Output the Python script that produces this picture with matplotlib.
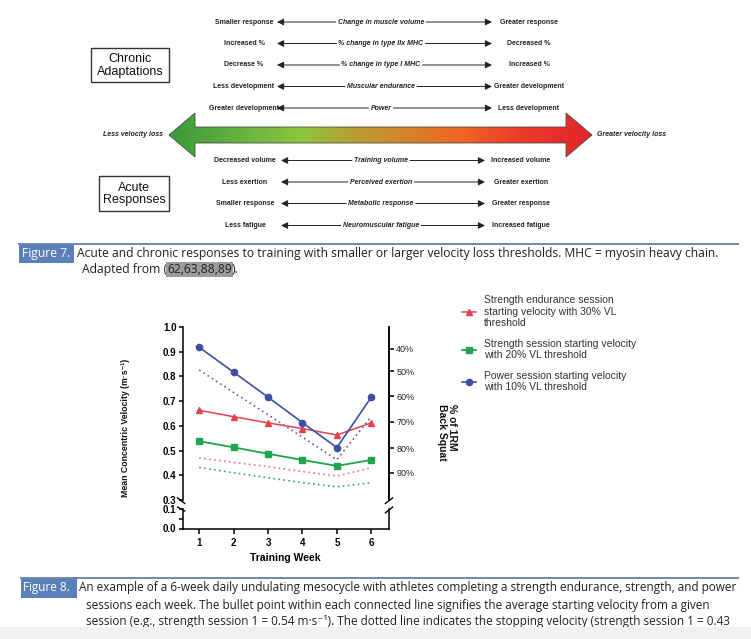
import numpy as np
import matplotlib
matplotlib.use('Agg')
import matplotlib.pyplot as plt
from matplotlib.patches import Polygon, Rectangle
from matplotlib.colors import LinearSegmentedColormap

plt.rcParams['font.family'] = ['Liberation Sans', 'DejaVu Sans']

# ---- figure 7 labels
chronic_left = ['Smaller response', 'Increased %', 'Decrease %', 'Less development', 'Greater development']
chronic_mid = ['Change in muscle volume', '% change in type IIx MHC', '% change in type I MHC',
               'Muscular endurance', 'Power']
chronic_right = ['Greater response', 'Decreased %', 'Increased %', 'Greater development', 'Less development']
acute_left = ['Decreased volume', 'Less exertion', 'Smaller response', 'Less fatigue']
acute_mid = ['Training volume', 'Perceived exertion', 'Metabolic response', 'Neuromuscular fatigue']
acute_right = ['Increased volume', 'Greater exertion', 'Greater response', 'Increased fatigue']

# ---- figure 8 data
weeks = [1, 2, 3, 4, 5, 6]
se_start = [0.663, 0.637, 0.612, 0.589, 0.563, 0.612]
se_stop = [0.47, 0.452, 0.435, 0.415, 0.397, 0.43]
str_start = [0.538, 0.513, 0.487, 0.462, 0.438, 0.462]
str_stop = [0.432, 0.41, 0.39, 0.37, 0.353, 0.37]
pow_start = [0.918, 0.817, 0.716, 0.613, 0.512, 0.716]
pow_stop = [0.826, 0.735, 0.645, 0.554, 0.463, 0.638]
pct_labels = ['40%', '50%', '60%', '70%', '80%', '90%']
pct_vel = [0.913, 0.82, 0.719, 0.616, 0.509, 0.411]

cap7_line1 = 'Acute and chronic responses to training with smaller or larger velocity loss thresholds. MHC = myosin heavy chain.'
cap7_line2 = ['Adapted from (', '62,63,88,89', ').']
cap8_lines = ['An example of a 6-week daily undulating mesocycle with athletes completing a strength endurance, strength, and power',
              'sessions each week. The bullet point within each connected line signifies the average starting velocity from a given',
              'session (e.g., strength session 1 = 0.54 m\u00b7s\u207b\u00b9). The dotted line indicates the stopping velocity (strength session 1 = 0.43']

W, H = 751, 639
fig = plt.figure(figsize=(W/100, H/100), dpi=100)
renderer = fig.canvas.get_renderer()

ax0 = fig.add_axes([0, 0, 1, 1])
ax0.set_xlim(0, W); ax0.set_ylim(H, 0)
ax0.axis('off')

txt = '#222222'
arr = dict(arrowstyle='-|>,head_length=0.4,head_width=0.2', color=txt, lw=0.7,
           shrinkA=0, shrinkB=0, mutation_scale=10)

def draw_row(y, left, mid, right, lc, rc, lhead, rhead):
    ax0.text(lc, y, left, ha='center', va='center', fontsize=5, weight='bold', color=txt)
    ax0.text(rc, y, right, ha='center', va='center', fontsize=5, weight='bold', color=txt)
    tm = ax0.text(381, y, mid, ha='center', va='center', fontsize=5, weight='bold',
                  style='italic', color=txt)
    bb = tm.get_window_extent(renderer)
    ax0.annotate('', xy=(lhead, y), xytext=(bb.x0 - 2, y), arrowprops=arr)
    ax0.annotate('', xy=(rhead, y), xytext=(bb.x1 + 2, y), arrowprops=arr)

for i, y in enumerate([22, 43.5, 65, 86.5, 108]):
    draw_row(y, chronic_left[i], chronic_mid[i], chronic_right[i], 244, 529, 277, 492)
for i, y in enumerate([160.5, 182, 203.5, 225.5]):
    draw_row(y, acute_left[i], acute_mid[i], acute_right[i], 245, 521, 281, 485)

# boxes
ax0.add_patch(Rectangle((91, 48), 78, 34, facecolor='white', edgecolor='#333333', lw=1.0))
ax0.text(130, 65.5, 'Chronic\nAdaptations', ha='center', va='center', fontsize=9,
         linespacing=1.05, color='#111111')
ax0.add_patch(Rectangle((99, 176), 70, 35, facecolor='white', edgecolor='#333333', lw=1.0))
ax0.text(134, 194, 'Acute\nResponses', ha='center', va='center', fontsize=9,
         linespacing=1.05, color='#111111')

# big gradient arrow
pts = [(169, 135), (195, 113), (195, 127), (566, 127), (566, 113), (592, 135),
       (566, 157), (566, 143), (195, 143), (195, 157)]
poly = Polygon(pts, closed=True, facecolor='none', edgecolor='#4a4a4a', lw=0.6, zorder=3)
ax0.add_patch(poly)
cmap = LinearSegmentedColormap.from_list('vl', [(0, '#3a9a3c'), (0.31, '#8cc63f'), (0.42, '#b3a234'),
                                               (0.52, '#cc8c2c'), (0.69, '#f06524'), (0.84, '#ec3a2a'),
                                               (1, '#e1262b')])
im = ax0.imshow(np.linspace(0, 1, 256)[None, :], cmap=cmap, extent=[169, 592, 157, 113],
                aspect='auto', zorder=2)
im.set_clip_path(poly)
ax0.text(133, 135, 'Less velocity loss', ha='center', va='center', fontsize=5,
         weight='bold', style='italic', color=txt)
ax0.text(632, 135, 'Greater velocity loss', ha='center', va='center', fontsize=5,
         weight='bold', style='italic', color=txt)

# ---- captions
capfont = ['Open Sans', 'DejaVu Sans']
capcol = '#231f20'
boxcol = '#5b7fb8'

def fit(t, width):
    bb = t.get_window_extent(renderer)
    t.set_fontsize(t.get_fontsize() * width / bb.width)
    return t.get_fontsize()

ax0.plot([19, 738], [243.5, 243.5], color='#6f87b4', lw=1.4)
ax0.add_patch(Rectangle((19, 243.5), 55, 19.5, facecolor=boxcol, edgecolor='none'))
t = ax0.text(77, 253, cap7_line1, ha='left', va='center', fontsize=8, family=capfont, color=capcol)
fs7 = fit(t, 647)
ax0.text(22, 253, 'Figure 7.', ha='left', va='center', fontsize=fs7, family=capfont, color='white')
x = 82
for j, s in enumerate(cap7_line2):
    kw = dict(bbox=dict(facecolor='#9c9c9c', edgecolor='none', pad=0.6)) if j == 1 else {}
    t = ax0.text(x, 269.5, s, ha='left', va='center', fontsize=fs7, family=capfont,
                 color=capcol, **kw)
    bb = t.get_window_extent(renderer)
    x = bb.x1

ax0.plot([21, 738], [578, 578], color='#6f87b4', lw=1.4)
ax0.add_patch(Rectangle((21, 578), 56, 19.5, facecolor=boxcol, edgecolor='none'))
t = ax0.text(79, 588, cap8_lines[0], ha='left', va='center', fontsize=8, family=capfont, color=capcol)
fs8 = fit(t, 658)
ax0.text(23, 588, 'Figure 8.', ha='left', va='center', fontsize=fs8, family=capfont, color='white')
ax0.text(86, 605, cap8_lines[1], ha='left', va='center', fontsize=fs8, family=capfont, color=capcol)
ax0.text(86, 621.5, cap8_lines[2], ha='left', va='center', fontsize=fs8, family=capfont, color=capcol)
ax0.add_patch(Rectangle((0, 627), W, 12, facecolor='#f1f1f1', edgecolor='none', zorder=5))

ax0.set_xlim(0, W); ax0.set_ylim(H, 0)

# ---- figure 8 chart (broken y axis)
L, R = 182.7, 388.5
ax = fig.add_axes([L/W, 1 - 500/H, (R - L)/W, 173/H])
axb = fig.add_axes([L/W, 1 - 528.5/H, (R - L)/W, 19.5/H])
for a in (ax, axb):
    a.patch.set_alpha(0)
    a.set_xlim(0.52, 6.5)
    for s in a.spines.values():
        s.set_linewidth(1.1)
ax.set_ylim(0.3, 1.0)
axb.set_ylim(0, 0.1)
ax.spines['top'].set_visible(False)
ax.spines['bottom'].set_visible(False)
axb.spines['top'].set_visible(False)

red, green, blue = '#e6414f', '#1ea54b', '#3e4fa3'
dot = (0, (1, 2))
ax.plot(weeks, se_stop, color='#e87283', ls=dot, lw=1.2)
ax.plot(weeks, str_stop, color='#36a66a', ls=dot, lw=1.2)
ax.plot(weeks, pow_stop, color='#5d6199', ls=dot, lw=1.2)
l1, = ax.plot(weeks, se_start, color=red, marker='^', ms=4.5, lw=1.1,
              label='Strength endurance session\nstarting velocity with 30% VL\nthreshold')
l2, = ax.plot(weeks, str_start, color=green, marker='s', ms=4.5, lw=1.3,
              label='Strength session starting velocity\nwith 20% VL threshold')
l3, = ax.plot(weeks, pow_start, color=blue, marker='o', ms=4.5, lw=1.2,
              label='Power session starting velocity\nwith 10% VL threshold')

tickfont = dict(fontsize=7, fontweight='bold')
ax.set_yticks([0.3, 0.4, 0.5, 0.6, 0.7, 0.8, 0.9, 1.0])
ax.set_yticklabels(['0.3', '0.4', '0.5', '0.6', '0.7', '0.8', '0.9', '1.0'], **tickfont)
ax.set_xticks([])
ax.tick_params(axis='y', direction='out', length=3, width=1.1, pad=1.5)
axb.set_yticks([0, 0.05, 0.1])
axb.set_yticklabels(['0.0', '', '0.1'], **tickfont)
axb.set_xticks(weeks)
axb.set_xticklabels([str(w) for w in weeks], **tickfont)
axb.tick_params(axis='y', direction='out', length=3, width=1.1, pad=1.5)
axb.tick_params(axis='x', direction='out', length=3.6, width=1.1, pad=3.5)
axb.set_xlabel('Training Week', fontsize=7.5, fontweight='bold', labelpad=3)

ax2 = ax.twinx()
ax2.set_ylim(ax.get_ylim())
ax2.set_yticks(pct_vel)
ax2.set_yticklabels(pct_labels, fontsize=6.5, color='#222222')
ax2.tick_params(axis='y', direction='out', length=3.6, width=1.1, pad=2)
for s in ('top', 'bottom', 'left'):
    ax2.spines[s].set_visible(False)
ax2.spines['right'].set_linewidth(1.1)

# break marks
brk = dict(color='black', lw=1.0, clip_on=False)
ax.plot([-0.025, 0.01], [0.012, -0.02], transform=ax.transAxes, **brk)
ax.plot([0.985, 1.02], [-0.02, 0.012], transform=ax.transAxes, **brk)
axb.plot([-0.025, 0.01], [1.1, 0.9], transform=axb.transAxes, **brk)
axb.plot([0.985, 1.02], [0.8, 1.1], transform=axb.transAxes, **brk)

ax0.text(125, 428, 'Mean Concentric Velocity (m\u00b7s\u207b\u00b9)', rotation=90, ha='center',
         va='center', fontsize=6.3, fontweight='bold', color='#111111')
ax0.text(447, 404, '% of 1RM\nBack Squat', rotation=270, ha='center', va='top',
         multialignment='left', fontsize=7.5, fontweight='bold', color='#111111', linespacing=1.1)

ax.legend(handles=[l1, l2, l3], loc='upper left', bbox_to_anchor=(462/W, 1 - 295/H),
          bbox_transform=fig.transFigure, frameon=False, fontsize=7.5, handlelength=1.3,
          handletextpad=0.8, labelspacing=1.0, borderaxespad=0, borderpad=0,
          labelcolor='#333333')

fig.savefig('out.png', dpi=100)
